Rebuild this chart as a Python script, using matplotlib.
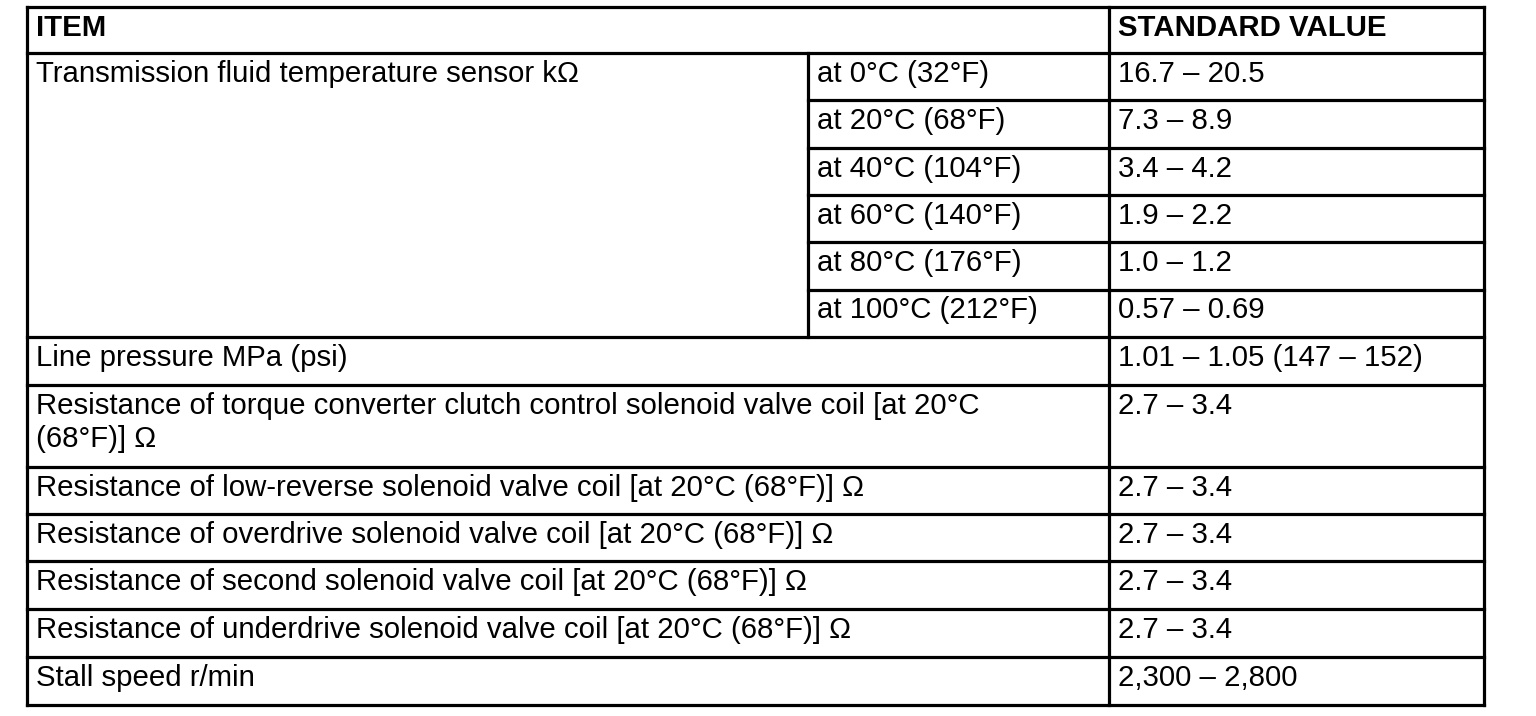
import matplotlib.pyplot as plt

plt.rcParams['font.family'] = ['Liberation Sans', 'DejaVu Sans']

# ---- table content ----
header = ["ITEM", "STANDARD VALUE"]
sensor_item = "Transmission fluid temperature sensor kΩ"
sensor_temps = ["at 0°C (32°F)", "at 20°C (68°F)", "at 40°C (104°F)",
                "at 60°C (140°F)", "at 80°C (176°F)", "at 100°C (212°F)"]
sensor_values = ["16.7 – 20.5", "7.3 – 8.9", "3.4 – 4.2",
                 "1.9 – 2.2", "1.0 – 1.2", "0.57 – 0.69"]
other_items = [
    "Line pressure MPa (psi)",
    "Resistance of torque converter clutch control solenoid valve coil [at 20°C\n(68°F)] Ω",
    "Resistance of low-reverse solenoid valve coil [at 20°C (68°F)] Ω",
    "Resistance of overdrive solenoid valve coil [at 20°C (68°F)] Ω",
    "Resistance of second solenoid valve coil [at 20°C (68°F)] Ω",
    "Resistance of underdrive solenoid valve coil [at 20°C (68°F)] Ω",
    "Stall speed r/min",
]
other_values = ["1.01 – 1.05 (147 – 152)", "2.7 – 3.4", "2.7 – 3.4",
                "2.7 – 3.4", "2.7 – 3.4", "2.7 – 3.4", "2,300 – 2,800"]

# ---- layout (pixels) ----
W, H = 1536, 716
x_left, x_cond, x_val, x_right = 27, 808, 1109, 1484
y_top = 7
header_h = 46
sensor_h = 47.3
other_h = [48, 82, 47, 47, 48, 48, 48]
pad_x = 9
base_off = 29
line_gap = 33
fs = 21.2
lw = 2.3

fig = plt.figure(figsize=(W / 100, H / 100), dpi=100)
ax = fig.add_axes([0, 0, 1, 1])
ax.set_xlim(0, W)
ax.set_ylim(H, 0)
ax.axis('off')

def hline(y, x0, x1):
    ax.plot([x0, x1], [y, y], color='black', lw=lw, solid_capstyle='projecting')

def vline(x, y0, y1):
    ax.plot([x, x], [y0, y1], color='black', lw=lw, solid_capstyle='projecting')

def put(x, y_row_top, s, bold=False):
    for i, line in enumerate(s.split("\n")):
        ax.text(x, y_row_top + base_off + i * line_gap, line, fontsize=fs,
                va='baseline', ha='left', color='black',
                fontweight='bold' if bold else 'normal')

# header
y = y_top
hline(y, x_left, x_right)
put(x_left + pad_x, y, header[0], bold=True)
put(x_val + pad_x, y, header[1], bold=True)
y += header_h
hline(y, x_left, x_right)

# sensor block
y_sensor_start = y
put(x_left + pad_x, y, sensor_item)
for t, v in zip(sensor_temps, sensor_values):
    put(x_cond + pad_x, y, t)
    put(x_val + pad_x, y, v)
    y += sensor_h
    if t != sensor_temps[-1]:
        hline(y, x_cond, x_right)
vline(x_cond, y_sensor_start, y)
hline(y, x_left, x_right)

# remaining rows
for item, v, h in zip(other_items, other_values, other_h):
    put(x_left + pad_x, y, item)
    put(x_val + pad_x, y, v)
    y += h
    hline(y, x_left, x_right)

vline(x_left, y_top, y)
vline(x_val, y_top, y)
vline(x_right, y_top, y)

fig.savefig("out.png", dpi=100, facecolor='white')
